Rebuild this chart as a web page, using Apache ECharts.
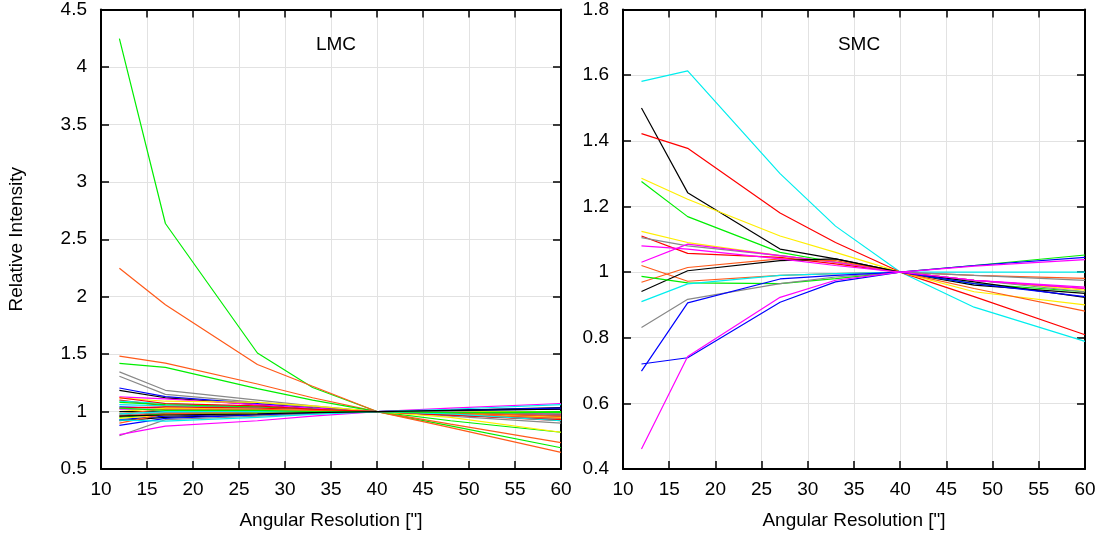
<!DOCTYPE html>
<html>
<head>
<meta charset="utf-8">
<script src="https://cdn.jsdelivr.net/npm/echarts@6/dist/echarts.min.js"></script>
<style>
html,body{margin:0;padding:0;background:#fff;}
#chart{width:1103px;height:538px;}
</style>
</head>
<body>
<div id="chart"></div>
<script>
// Angular resolutions (arcsec) at which intensities were measured
const xValues = [12, 17, 27, 33, 40, 48, 60];

const panelTitles = ['LMC', 'SMC'];
const xAxisName = 'Angular Resolution ["]';
const yAxisName = 'Relative Intensity';

// LMC: relative intensity curves (one row per curve, aligned with xValues)
const lmcColors = [
  'green','orange','orange','green','gray','gray','blue','black','magenta','yellow',
  'red','cyan','green','cyan','blue','red','magenta','yellow','black','orange',
  'gray','red','green','blue','black','yellow','orange','blue','gray','magenta',
  'cyan','red','cyan','green','black'
];
const lmcValues = [
  [4.246, 2.637, 1.51, 1.21, 1, 0.876, 0.685],
  [2.247, 1.929, 1.41, 1.22, 1, 0.86, 0.645],
  [1.483, 1.422, 1.24, 1.12, 1, 0.89, 0.73],
  [1.42, 1.385, 1.20, 1.10, 1, 0.92, 0.82],
  [1.345, 1.185, 1.10, 1.05, 1, 0.96, 0.90],
  [1.307, 1.15, 1.08, 1.04, 1, 0.97, 0.93],
  [1.205, 1.13, 1.07, 1.03, 1, 0.97, 0.93],
  [1.185, 1.12, 1.06, 1.03, 1, 0.98, 0.96],
  [1.127, 1.11, 1.06, 1.03, 1, 0.98, 0.95],
  [1.12, 1.09, 1.08, 1.05, 1, 0.95, 0.82],
  [1.10, 1.05, 1.04, 1.02, 1, 0.97, 0.93],
  [1.09, 1.07, 1.04, 1.02, 1, 0.98, 0.94],
  [1.08, 1.06, 1.04, 1.02, 1, 0.985, 0.97],
  [1.06, 1.05, 1.03, 1.015, 1, 0.99, 0.98],
  [1.04, 1.03, 1.02, 1.01, 1, 0.99, 0.97],
  [1.03, 1.04, 1.03, 1.015, 1, 0.985, 0.96],
  [1.02, 1.02, 1.02, 1.01, 1, 0.99, 0.98],
  [1.00, 1.03, 1.02, 1.01, 1, 0.98, 0.95],
  [1.00, 1.00, 1.00, 1.00, 1, 1.00, 1.00],
  [0.98, 1.02, 1.02, 1.01, 1, 0.98, 0.94],
  [0.97, 0.99, 0.99, 0.995, 1, 1.00, 0.99],
  [0.96, 0.98, 0.99, 0.995, 1, 0.99, 0.97],
  [0.95, 0.98, 0.99, 0.995, 1, 1.00, 1.00],
  [0.93, 0.96, 0.98, 0.99, 1, 1.01, 1.02],
  [0.92, 0.95, 0.97, 0.985, 1, 1.01, 1.035],
  [0.94, 0.97, 0.985, 0.99, 1, 1.00, 0.99],
  [0.90, 0.98, 1.00, 1.00, 1, 0.99, 0.96],
  [0.88, 0.94, 0.97, 0.985, 1, 1.01, 1.03],
  [0.789, 0.93, 0.96, 0.98, 1, 1.00, 0.97],
  [0.80, 0.873, 0.92, 0.96, 1, 1.03, 1.07],
  [0.925, 0.917, 0.95, 0.975, 1, 1.02, 1.06],
  [1.12, 1.07, 1.05, 1.02, 1, 0.97, 0.92],
  [0.98, 1.00, 1.00, 1.00, 1, 0.98, 0.92],
  [1.03, 1.01, 1.01, 1.00, 1, 0.99, 0.99],
  [0.96, 0.97, 0.98, 0.99, 1, 1.01, 1.02]
];

// SMC: relative intensity curves
const smcColors = [
  'cyan','black','red','yellow','green','yellow','red','gray','magenta','orange',
  'orange','black','green','cyan','gray','blue','blue','magenta','magenta'
];
const smcValues = [
  [1.581, 1.613, 1.30, 1.14, 1, 0.893, 0.789],
  [1.50, 1.242, 1.07, 1.04, 1, 0.96, 0.935],
  [1.422, 1.377, 1.18, 1.09, 1, 0.925, 0.809],
  [1.286, 1.222, 1.11, 1.06, 1, 0.94, 0.90],
  [1.276, 1.169, 1.06, 1.03, 1, 0.965, 0.94],
  [1.124, 1.09, 1.05, 1.03, 1, 0.975, 0.945],
  [1.11, 1.057, 1.045, 1.025, 1, 0.975, 0.95],
  [1.105, 1.08, 1.05, 1.03, 1, 0.975, 0.94],
  [1.03, 1.085, 1.05, 1.03, 1, 0.975, 0.954],
  [1.02, 0.972, 0.99, 0.995, 1, 0.99, 0.981],
  [0.969, 1.014, 1.04, 1.035, 1, 0.95, 0.881],
  [0.941, 1.004, 1.035, 1.04, 1, 0.97, 0.923],
  [0.987, 0.967, 0.965, 0.98, 1, 1.02, 1.052],
  [0.91, 0.964, 0.99, 0.995, 1, 1.00, 1.00],
  [0.831, 0.917, 0.965, 0.985, 1, 0.99, 0.975],
  [0.698, 0.906, 0.979, 0.99, 1, 1.02, 1.045],
  [0.72, 0.739, 0.908, 0.97, 1, 0.965, 0.925],
  [0.461, 0.743, 0.923, 0.975, 1, 1.018, 1.038],
  [1.08, 1.07, 1.04, 1.02, 1, 0.975, 0.95]
];

// Tick settings
const xTicks = {min: 10, max: 60, interval: 5};
const lmcY = {min: 0.5, max: 4.5, interval: 0.5};
const smcY = {min: 0.4, max: 1.8, interval: 0.2};

const colorMap = {
  red: '#ff0000', green: '#00ee00', blue: '#0000ff', magenta: '#ff00ff',
  cyan: '#00eeee', yellow: '#ffee00', black: '#000000', orange: '#ff5a1a', gray: '#888888'
};

const FONT = 'Liberation Sans, Arial, sans-serif';
const FS = 19;
const grids = [
  {left: 101, right: 542, top: 8, bottom: 69},
  {left: 623, right: 18, top: 8, bottom: 69}
];

function xAxisDef(gi, main) {
  return {
    type: 'value', gridIndex: gi, min: xTicks.min, max: xTicks.max, interval: xTicks.interval,
    position: main ? 'bottom' : 'top',
    name: main ? xAxisName : '', nameLocation: 'middle', nameGap: 42,
    nameTextStyle: {color: '#000', fontSize: FS, fontFamily: FONT},
    axisLine: {show: true, onZero: false, lineStyle: {color: '#000', width: 2}},
    axisTick: {show: true, inside: true, length: 8, lineStyle: {color: '#000', width: 1.5}},
    axisLabel: {show: main, color: '#000', fontSize: FS, fontFamily: FONT, margin: 11},
    splitLine: {show: main, lineStyle: {color: '#e2e2e2', width: 1}}
  };
}
function yAxisDef(gi, cfg, main, name) {
  return {
    type: 'value', gridIndex: gi, min: cfg.min, max: cfg.max, interval: cfg.interval,
    position: main ? 'left' : 'right',
    name: main ? name : '', nameLocation: 'middle', nameGap: 75,
    nameTextStyle: {color: '#000', fontSize: FS, fontFamily: FONT},
    axisLine: {show: true, onZero: false, lineStyle: {color: '#000', width: 2}},
    axisTick: {show: true, inside: true, length: 8, lineStyle: {color: '#000', width: 1.5}},
    axisLabel: {show: main, color: '#000', fontSize: FS, fontFamily: FONT, margin: 14},
    splitLine: {show: main, lineStyle: {color: '#e2e2e2', width: 1}}
  };
}

const series = [];
function addSeries(values, colors, gi) {
  values.forEach((row, i) => {
    series.push({
      type: 'line', xAxisIndex: gi * 2, yAxisIndex: gi * 2,
      data: row.map((v, j) => [xValues[j], v]),
      showSymbol: false, symbol: 'none', silent: true,
      lineStyle: {color: colorMap[colors[i]], width: 1.2},
      z: 3
    });
  });
}
addSeries(lmcValues, lmcColors, 0);
addSeries(smcValues, smcColors, 1);

const chart = echarts.init(document.getElementById('chart'), null, {renderer: 'canvas'});
chart.setOption({
  animation: false,
  backgroundColor: '#fff',
  title: [
    {text: panelTitles[0], left: 331, top: 30, textAlign: 'center',
     textStyle: {fontSize: FS, fontWeight: 'normal', color: '#000', fontFamily: FONT}},
    {text: panelTitles[1], left: 854, top: 30, textAlign: 'center',
     textStyle: {fontSize: FS, fontWeight: 'normal', color: '#000', fontFamily: FONT}}
  ],
  grid: grids,
  xAxis: [xAxisDef(0, true), xAxisDef(0, false), xAxisDef(1, true), xAxisDef(1, false)],
  yAxis: [yAxisDef(0, lmcY, true, yAxisName), yAxisDef(0, lmcY, false),
          yAxisDef(1, smcY, true, ''), yAxisDef(1, smcY, false)],
  series: series
});
</script>
</body>
</html>
